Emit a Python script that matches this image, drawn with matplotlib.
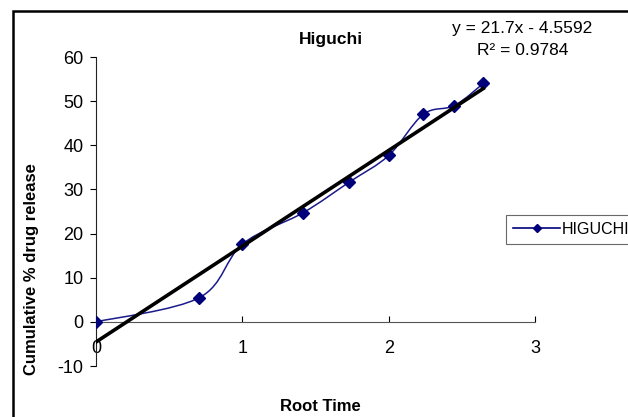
import numpy as np
import matplotlib.pyplot as plt
from matplotlib.path import Path
from matplotlib.patches import PathPatch, Rectangle
from matplotlib.lines import Line2D

plt.rcParams['font.family'] = ['Liberation Sans', 'DejaVu Sans']
plt.rcParams['axes.unicode_minus'] = False

# data (root time vs cumulative % release)
root_time = [0, 0.707, 1.0, 1.414, 1.732, 2.0, 2.236, 2.449, 2.646]
release = [0, 5.5, 17.6, 24.7, 31.7, 37.7, 47.0, 49.0, 54.0]
slope, intercept = 21.7, -4.5592
x_ticks = [0, 1, 2, 3]
y_ticks = [-10, 0, 10, 20, 30, 40, 50, 60]


def smooth_path(xs, ys, t=1/6):
    # Catmull-Rom style bezier through the points (like Excel smoothed line)
    pts = np.column_stack([xs, ys])
    verts = [pts[0]]
    codes = [Path.MOVETO]
    n = len(pts)
    for i in range(n - 1):
        p0 = pts[i - 1] if i > 0 else pts[i]
        p1, p2 = pts[i], pts[i + 1]
        p3 = pts[i + 2] if i + 2 < n else pts[i + 1]
        c1 = p1 + (p2 - p0) * t
        c2 = p2 - (p3 - p1) * t
        verts += [c1, c2, p2]
        codes += [Path.CURVE4] * 3
    return Path(verts, codes)


fig = plt.figure(figsize=(6.28, 4.17), dpi=100)
ax = fig.add_axes([0.1529, 0.1223, 0.6991, 0.741])

ax.add_patch(PathPatch(smooth_path(root_time, release), fill=False,
                       edgecolor='#1a1a8c', lw=1.1, zorder=3))
ax.plot(root_time, release, ls='none', marker='D', ms=6, color='#00007a', zorder=4)

xt = np.array([0, root_time[-1]])
ax.plot(xt, slope * xt + intercept, color='black', lw=2.6, zorder=5)

ax.set_xlim(0, 3)
ax.set_ylim(-10, 60)
ax.set_xticks(x_ticks)
ax.set_yticks(y_ticks)
ax.spines['top'].set_visible(False)
ax.spines['right'].set_visible(False)
ax.spines['bottom'].set_position(('data', 0))
ax.spines['left'].set_color('#222222')
ax.spines['bottom'].set_color('#555555')
ax.tick_params(axis='y', direction='out', length=4, labelsize=13, pad=5)
ax.tick_params(axis='x', direction='in', length=4, labelsize=13, pad=13)

fig.text(0.527, 0.905, 'Higuchi', fontsize=12.5, fontweight='bold', ha='center', va='center')
fig.text(0.832, 0.932, 'y = 21.7x - 4.5592', fontsize=12.5, ha='center', va='center')
fig.text(0.832, 0.878, 'R² = 0.9784', fontsize=12.5, ha='center', va='center')
fig.text(0.05, 0.355, 'Cumulative % drug release', fontsize=12, fontweight='bold',
         rotation=90, ha='center', va='center')
fig.text(0.51, 0.025, 'Root Time', fontsize=12, fontweight='bold', ha='center', va='center')

# outer chart frame
fig.patches.append(Rectangle((0.021, -0.1), 1.2, 1.073, transform=fig.transFigure,
                             fill=False, edgecolor='black', lw=1.8))

handle = Line2D([], [], color='#00007a', marker='D', ms=4, lw=1.2)
leg = fig.legend([handle], ['HIGUCHI'], loc='center left', bbox_to_anchor=(0.806, 0.45),
                 frameon=True, fancybox=False, edgecolor='#444444', fontsize=11.5,
                 handlelength=2.9, handletextpad=0.1, borderpad=0.45, borderaxespad=0)
leg.get_frame().set_linewidth(0.8)

fig.savefig('out.png', dpi=100)
